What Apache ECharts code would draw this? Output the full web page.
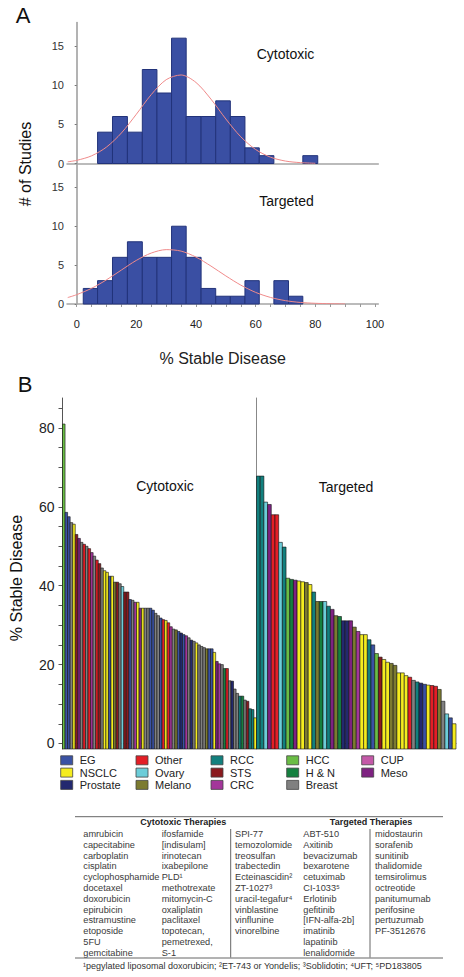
<!DOCTYPE html>
<html><head><meta charset="utf-8">
<script src="https://cdn.jsdelivr.net/npm/echarts@6/dist/echarts.min.js"></script>
<style>html,body{margin:0;padding:0;background:#fff}#c{width:464px;height:977px}</style>
</head><body><div id="c"></div>
<script>
// ---------- Panel A : histograms ----------
const histEdges = [2.2,7.0,12.0,17.0,22.0,26.9,31.8,36.7,41.7,46.6,51.5,56.4,61.2,66.1,71.0,75.8,80.8];
const cytoCounts = [0,4,6,4,12,9,16,6,6,8,6,2,1,0,0,1];
const targCounts = [2,3,6,8,6,6,10,6,2,1,1,3,0,3,1,0];
const cytoFitX = [-3,0,5,10,15,20,25,30,35,40,45,50,55,60,65,70,75,80];
const cytoFitY = [0.22,0.40,0.98,2.10,3.90,6.29,8.80,10.70,11.30,10.34,8.22,5.68,3.41,1.78,0.80,0.31,0.11,0.03];
const targFitX = [-3,0,5,10,15,20,25,30,35,40,45,50,55,60,65,70,75,80,85,90];
const targFitY = [0.83,1.20,2.02,3.11,4.37,5.61,6.55,6.99,6.80,6.03,4.88,3.61,2.43,1.49,0.84,0.43,0.20,0.09,0.04,0.01];
const histXLabels = [0,20,40,60,80,100];
const histXTicks = [0,5,10,15,20,25,30,35,40,45,50,55,60,65,70,75,80,85,90,95,100];
const histYTicks = [0,5,10,15];

// ---------- Panel B : ranked bars ----------
const cytoValues = [81.0,58.6,57.5,56.0,55.6,53.0,52.0,51.0,50.5,50.0,
  49.4,48.4,47.5,46.5,45.6,44.5,43.8,43.4,42.4,42.4,
  40.9,40.9,40.5,39.8,38.4,38.4,36.5,36.3,35.8,35.8,
  34.3,34.3,34.3,34.3,34.3,33.8,33.0,32.4,31.8,31.4,
  31.2,30.6,29.6,29.0,28.8,28.4,28.0,27.6,27.3,26.8,
  26.2,25.9,25.5,25.0,24.6,24.3,24.0,24.0,24.0,23.1,
  20.8,20.2,20.0,19.0,19.0,15.9,15.8,13.8,12.7,12.0,
  12.0,11.0,10.7,8.8,8.6,6.5];
const cytoTypes = ['HCC','EG','EG','Breast','NSCLC','STS','Meso','Breast','Other','Breast',
  'Other','CRC','Breast','Other','STS','Breast','NSCLC','NSCLC','EG','NSCLC',
  'Melano','STS','Breast','Ovary','STS','STS','EG','Breast','CRC','NSCLC',
  'Meso','NSCLC','Breast','Breast','EG','EG','Breast','Breast','EG','Other',
  'NSCLC','Other','CRC','Breast','Melano','EG','Prostate','EG','CRC','Breast',
  'Prostate','Breast','NSCLC','Breast','Breast','Breast','Melano','EG','EG','NSCLC',
  'Meso','CRC','Breast','H & N','Other','Breast','Prostate','Breast','Breast','RCC',
  'H & N','Breast','STS','RCC','RCC','NSCLC'];
const targValues = [67.8,67.8,61.2,60.6,58.0,58.0,51.0,49.8,41.9,41.6,
  41.4,41.2,41.0,40.8,40.3,38.4,36.0,36.0,36.0,34.8,
  34.0,32.4,32.2,31.1,31.1,31.1,29.5,28.4,27.6,27.6,
  26.3,25.0,22.8,21.9,21.3,20.6,20.3,19.8,17.9,17.9,
  17.2,16.8,16.0,15.6,15.3,15.0,14.8,14.7,14.5,13.7,
  10.7,7.5,6.5,5.0];
const targTypes = ['RCC','RCC','Ovary','Meso','Other','Other','Ovary','RCC','HCC','H & N',
  'Meso','NSCLC','NSCLC','Melano','NSCLC','RCC','Melano','H & N','Ovary','RCC',
  'Meso','Melano','H & N','Prostate','Prostate','Meso','Melano','CRC','NSCLC','NSCLC',
  'RCC','EG','HCC','STS','NSCLC','NSCLC','Melano','Melano','NSCLC','NSCLC',
  'NSCLC','Other','Breast','RCC','Prostate','EG','NSCLC','Other','Other','Melano',
  'Breast','Ovary','EG','NSCLC'];
const barYLabels = [0,20,40,60,80];
const barYTicks = [0,5,10,15,20,25,30,35,40,45,50,55,60,65,70,75,80,85];
const tumorTypes = ['EG','NSCLC','Prostate','Other','Ovary','Melano','RCC','STS','CRC','HCC','H & N','Breast','CUP','Meso'];

// ---------- Table ----------
const tableCols = [
  ['amrubicin','capecitabine','carboplatin','cisplatin','cyclophosphamide','docetaxel','doxorubicin','epirubicin','estramustine','etoposide','5FU','gemcitabine'],
  ['ifosfamide','[indisulam]','irinotecan','ixabepilone','PLD¹','methotrexate','mitomycin-C','oxaliplatin','paclitaxel','topotecan,','pemetrexed,','S-1'],
  ['SPI-77','temozolomide','treosulfan','trabectedin','Ecteinascidin²','ZT-1027³','uracil-tegafur⁴','vinblastine','vinflunine','vinorelbine'],
  ['ABT-510','Axitinib','bevacizumab','bexarotene','cetuximab','CI-1033⁵','Erlotinib','gefitinib','[IFN-alfa-2b]','imatinib','lapatinib','lenalidomide'],
  ['midostaurin','sorafenib','sunitinib','thalidomide','temsirolimus','octreotide','panitumumab','perifosine','pertuzumab','PF-3512676']
];
const tableHeaders = ['Cytotoxic Therapies','Targeted Therapies'];
const footnote = '¹pegylated liposomal doxorubicin; ²ET-743 or Yondelis; ³Soblidotin; ⁴UFT; ⁵PD183805';

// ---------- styling ----------
const FONT = '"Liberation Sans", Arial, Helvetica, sans-serif';
const typeColor = {
  'EG':'#3a52a4','Other':'#e31e26','RCC':'#12807e','HCC':'#6abd45','CUP':'#c459a8',
  'NSCLC':'#f4ec1f','Ovary':'#6ccdd9','STS':'#8a1a1e','H & N':'#14803f','Meso':'#7e2281',
  'Prostate':'#23296f','Melano':'#7c7b30','CRC':'#a3369a','Breast':'#808080'
};

const chart = echarts.init(document.getElementById('c'), null, {renderer:'svg'});

function histSeries(counts, gi) {
  const data = [];
  counts.forEach((c, i) => { if (c > 0) data.push([histEdges[i], histEdges[i+1], c]); });
  return {
    type:'custom', xAxisIndex:gi, yAxisIndex:gi, data, encode:{x:[0,1], y:2}, z:2,
    renderItem:(p, api) => {
      const a = api.coord([api.value(0), api.value(2)]);
      const b = api.coord([api.value(1), 0]);
      return {type:'rect', shape:{x:a[0], y:a[1], width:b[0]-a[0], height:b[1]-a[1]},
        style:{fill:'#3a4fa3', stroke:'#22337a', lineWidth:1}};
    }
  };
}
function fitSeries(xs, ys, gi) {
  return {type:'line', xAxisIndex:gi, yAxisIndex:gi, data: xs.map((x,i)=>[x, ys[i]]),
    smooth:0.3, symbol:'none', lineStyle:{color:'#f08a8a', width:1}, z:3, silent:true};
}
function barSeries(vals, types, gi) {
  return {
    type:'custom', xAxisIndex:gi, yAxisIndex:gi,
    data: vals.map((v,i)=>[i, v, tumorTypes.indexOf(types[i])]),
    encode:{x:0, y:1},
    renderItem:(p, api) => {
      const i = api.value(0);
      const top = api.coord([i, api.value(1)]);
      const bot = api.coord([i, -1.4]);
      const w = api.size([1,0])[0];
      return {type:'rect', shape:{x:top[0]-w/2, y:top[1], width:w, height:bot[1]-top[1]},
        style:{fill:typeColor[tumorTypes[api.value(2)]], stroke:'#111', lineWidth:0.6}};
    }
  };
}

const histYAxis = (gi) => ({
  gridIndex:gi, type:'value', min:0, max:18,
  axisLine:{show:true, lineStyle:{color:'#9a9a9a', width:1.5}},
  axisTick:{show:true, customValues:histYTicks, length:2, lineStyle:{color:'#777'}},
  axisLabel:{customValues:histYTicks, fontSize:11, color:'#333', margin:3, fontFamily:FONT},
  splitLine:{show:false}
});

const graphics = [];
const txt = (x, y, text, size, opts) => graphics.push(Object.assign({
  type:'text', x, y, style:Object.assign({text, fontSize:size, fontFamily:FONT, fill:'#111',
    align:'center', verticalAlign:'middle'}, (opts && opts.style) || {})
}, opts && opts.rotation !== undefined ? {rotation:opts.rotation} : {}));

txt(23, 15, 'A', 22);
txt(25, 384, 'B', 22);
txt(25, 164, '# of Studies', 16, {rotation:Math.PI/2});
txt(16, 578, '% Stable Disease', 16, {rotation:Math.PI/2});
txt(285.5, 54, 'Cytotoxic', 14);
txt(286.5, 201, 'Targeted', 14);
txt(165, 486, 'Cytotoxic', 14);
txt(346, 487, 'Targeted', 14);

// legend
const legColX = [60.7, 136, 211, 286.7, 361.7];
const legRowY = [760.3, 772.6, 784.9];
tumorTypes.forEach((t, i) => {
  const cx = legColX[Math.floor(i/3)], cy = legRowY[i%3];
  graphics.push({type:'rect', shape:{x:cx, y:cy-4.5, width:12, height:9},
    style:{fill:typeColor[t], stroke:'#444', lineWidth:0.8}});
  graphics.push({type:'text', x:cx+19, y:cy, style:{text:t, fontSize:11, fontFamily:FONT, fill:'#222', align:'left', verticalAlign:'middle'}});
});

// table
const tColX = [83.3, 161.7, 235, 303.3, 375];
tableCols.forEach((col, ci) => col.forEach((w, ri) => {
  graphics.push({type:'text', x:tColX[ci], y:834 + 10.8*ri,
    style:{text:w, fontSize:9.2, fontFamily:FONT, fill:'#3a3a3a', align:'left', verticalAlign:'middle'}});
}));
graphics.push({type:'text', x:183.3, y:821.8, style:{text:tableHeaders[0], fontSize:9, fontWeight:'bold', fontFamily:FONT, fill:'#222', align:'center', verticalAlign:'middle'}});
graphics.push({type:'text', x:371, y:821.8, style:{text:tableHeaders[1], fontSize:9, fontWeight:'bold', fontFamily:FONT, fill:'#222', align:'center', verticalAlign:'middle'}});
graphics.push({type:'line', shape:{x1:75, y1:816.7, x2:443, y2:816.7}, style:{stroke:'#666', lineWidth:1}});
graphics.push({type:'line', shape:{x1:75, y1:958, x2:443, y2:958}, style:{stroke:'#666', lineWidth:1}});
graphics.push({type:'line', shape:{x1:230.7, y1:829, x2:230.7, y2:957.5}, style:{stroke:'#666', lineWidth:1}});
graphics.push({type:'line', shape:{x1:370, y1:829, x2:370, y2:957.5}, style:{stroke:'#666', lineWidth:1}});
graphics.push({type:'text', x:83, y:965.5, style:{text:footnote, fontSize:9, fontFamily:FONT, fill:'#333', align:'left', verticalAlign:'middle'}});

chart.setOption({
  animation:false,
  backgroundColor:'#fff',
  textStyle:{fontFamily:FONT},
  grid:[
    {left:67, top:22.5, width:311.3, height:141},
    {left:67, top:164, width:311.3, height:140},
    {left:62.5, top:398, width:194, height:351},
    {left:256.5, top:398, width:199.5, height:351}
  ],
  xAxis:[
    {gridIndex:0, type:'value', min:-3.25, max:101.1,
      axisLine:{lineStyle:{color:'#a5a5a5', width:1.5}}, axisTick:{show:false}, axisLabel:{show:false}, splitLine:{show:false}},
    {gridIndex:1, type:'value', min:-3.25, max:101.1,
      axisLine:{lineStyle:{color:'#a5a5a5', width:1.5}},
      axisTick:{show:true, customValues:histXTicks, length:3, lineStyle:{color:'#999'}},
      axisLabel:{customValues:histXLabels, fontSize:11, color:'#222', margin:14, fontFamily:FONT},
      name:'% Stable Disease', nameLocation:'middle', nameGap:46,
      nameTextStyle:{fontSize:16, color:'#222', fontFamily:FONT},
      splitLine:{show:false}},
    {gridIndex:2, type:'category', data:cytoValues.map((_,i)=>i),
      axisLine:{lineStyle:{color:'#888'}}, axisTick:{show:false}, axisLabel:{show:false}},
    {gridIndex:3, type:'category', data:targValues.map((_,i)=>i),
      axisLine:{lineStyle:{color:'#888'}}, axisTick:{show:false}, axisLabel:{show:false}}
  ],
  yAxis:[
    histYAxis(0), histYAxis(1),
    {gridIndex:2, type:'value', min:-1.4, max:87.6,
      axisLine:{show:true, lineStyle:{color:'#555'}},
      axisTick:{show:true, customValues:barYTicks, length:4, lineStyle:{color:'#555'}},
      axisLabel:{customValues:barYLabels, fontSize:14, color:'#222', margin:8, fontFamily:FONT},
      splitLine:{show:false}},
    {gridIndex:3, type:'value', min:-1.4, max:87.6,
      axisLine:{show:true, lineStyle:{color:'#888'}}, axisTick:{show:false}, axisLabel:{show:false}, splitLine:{show:false}}
  ],
  series:[
    histSeries(cytoCounts, 0), fitSeries(cytoFitX, cytoFitY, 0),
    histSeries(targCounts, 1), fitSeries(targFitX, targFitY, 1),
    barSeries(cytoValues, cytoTypes, 2), barSeries(targValues, targTypes, 3)
  ],
  graphic:graphics
});
</script>
</body></html>
